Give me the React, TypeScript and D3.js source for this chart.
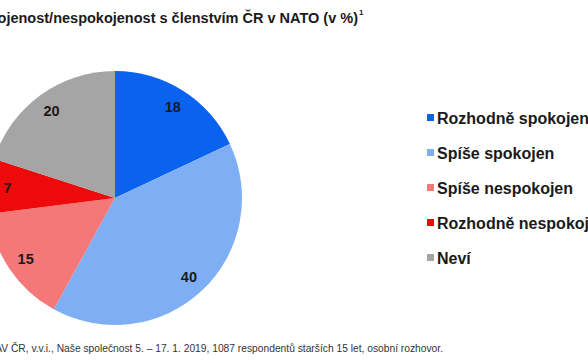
import React from "react";
import * as d3 from "d3";

// Spokojenost s členstvím ČR v NATO (v %)
const categories = [
  "Rozhodně spokojen",
  "Spíše spokojen",
  "Spíše nespokojen",
  "Rozhodně nespokojen",
  "Neví",
];
const values = [18, 40, 15, 7, 20];
const colors = ["#0a63ee", "#7eaff5", "#f47878", "#ee0a0a", "#a5a5a5"];

const title = "Spokojenost/nespokojenost s členstvím ČR v NATO (v %)";
const footnote =
  "Zdroj: CVVM, Sociologický ústav AV ČR, v.v.i., Naše společnost 5. – 17. 1. 2019, 1087 respondentů starších 15 let, osobní rozhovor.";

const width = 588;
const height = 363;
const cx = 115;
const cy = 198;
const radius = 127;

export default function App() {
  const rows = categories.map((c, i) => ({ name: c, value: values[i], color: colors[i] }));
  const pie = d3.pie<any>().sort(null).value((d) => d.value);
  const arcs = pie(rows);
  const arc = d3.arc<any>().innerRadius(0).outerRadius(radius);
  const labelArc = d3.arc<any>().innerRadius(108).outerRadius(108);

  const legendY = d3.scalePoint<string>().domain(categories).range([118, 258]);

  return (
    <div style={{ position: "fixed", left: 0, top: 0, width, height, overflow: "hidden", background: "#fff" }}>
      <svg width={width} height={height} style={{ display: "block" }} fontFamily="'Liberation Sans', Arial, sans-serif">
        <text x={358} y={23} textAnchor="end" fontSize={14.5} fontWeight="bold" fill="#1a1a1a">
          {title}
        </text>
        <text x={359} y={15} fontSize={8} fontWeight="bold" fill="#1a1a1a">1</text>

        <g transform={`translate(${cx},${cy})`}>
          {arcs.map((a, i) => (
            <path key={i} d={arc(a) as string} fill={a.data.color} />
          ))}
          {arcs.map((a, i) => {
            const [x, y] = labelArc.centroid(a);
            return (
              <text key={i} x={x} y={y} dy="0.35em" textAnchor="middle" fontSize={14.5} fontWeight="bold" fill="#1a1a1a">
                {a.data.value}
              </text>
            );
          })}
        </g>

        {rows.map((d) => (
          <g key={d.name} transform={`translate(427,${legendY(d.name)})`}>
            <rect x={0} y={-4} width={7} height={7} fill={d.color} />
            <text x={10} y={0} dy="0.35em" fontSize={16} fontWeight="bold" fill="#1a1a1a">
              {d.name}
            </text>
          </g>
        ))}

        <text x={443} y={352} textAnchor="end" fontSize={10.25} fill="#333">
          {footnote}
        </text>
      </svg>
    </div>
  );
}
